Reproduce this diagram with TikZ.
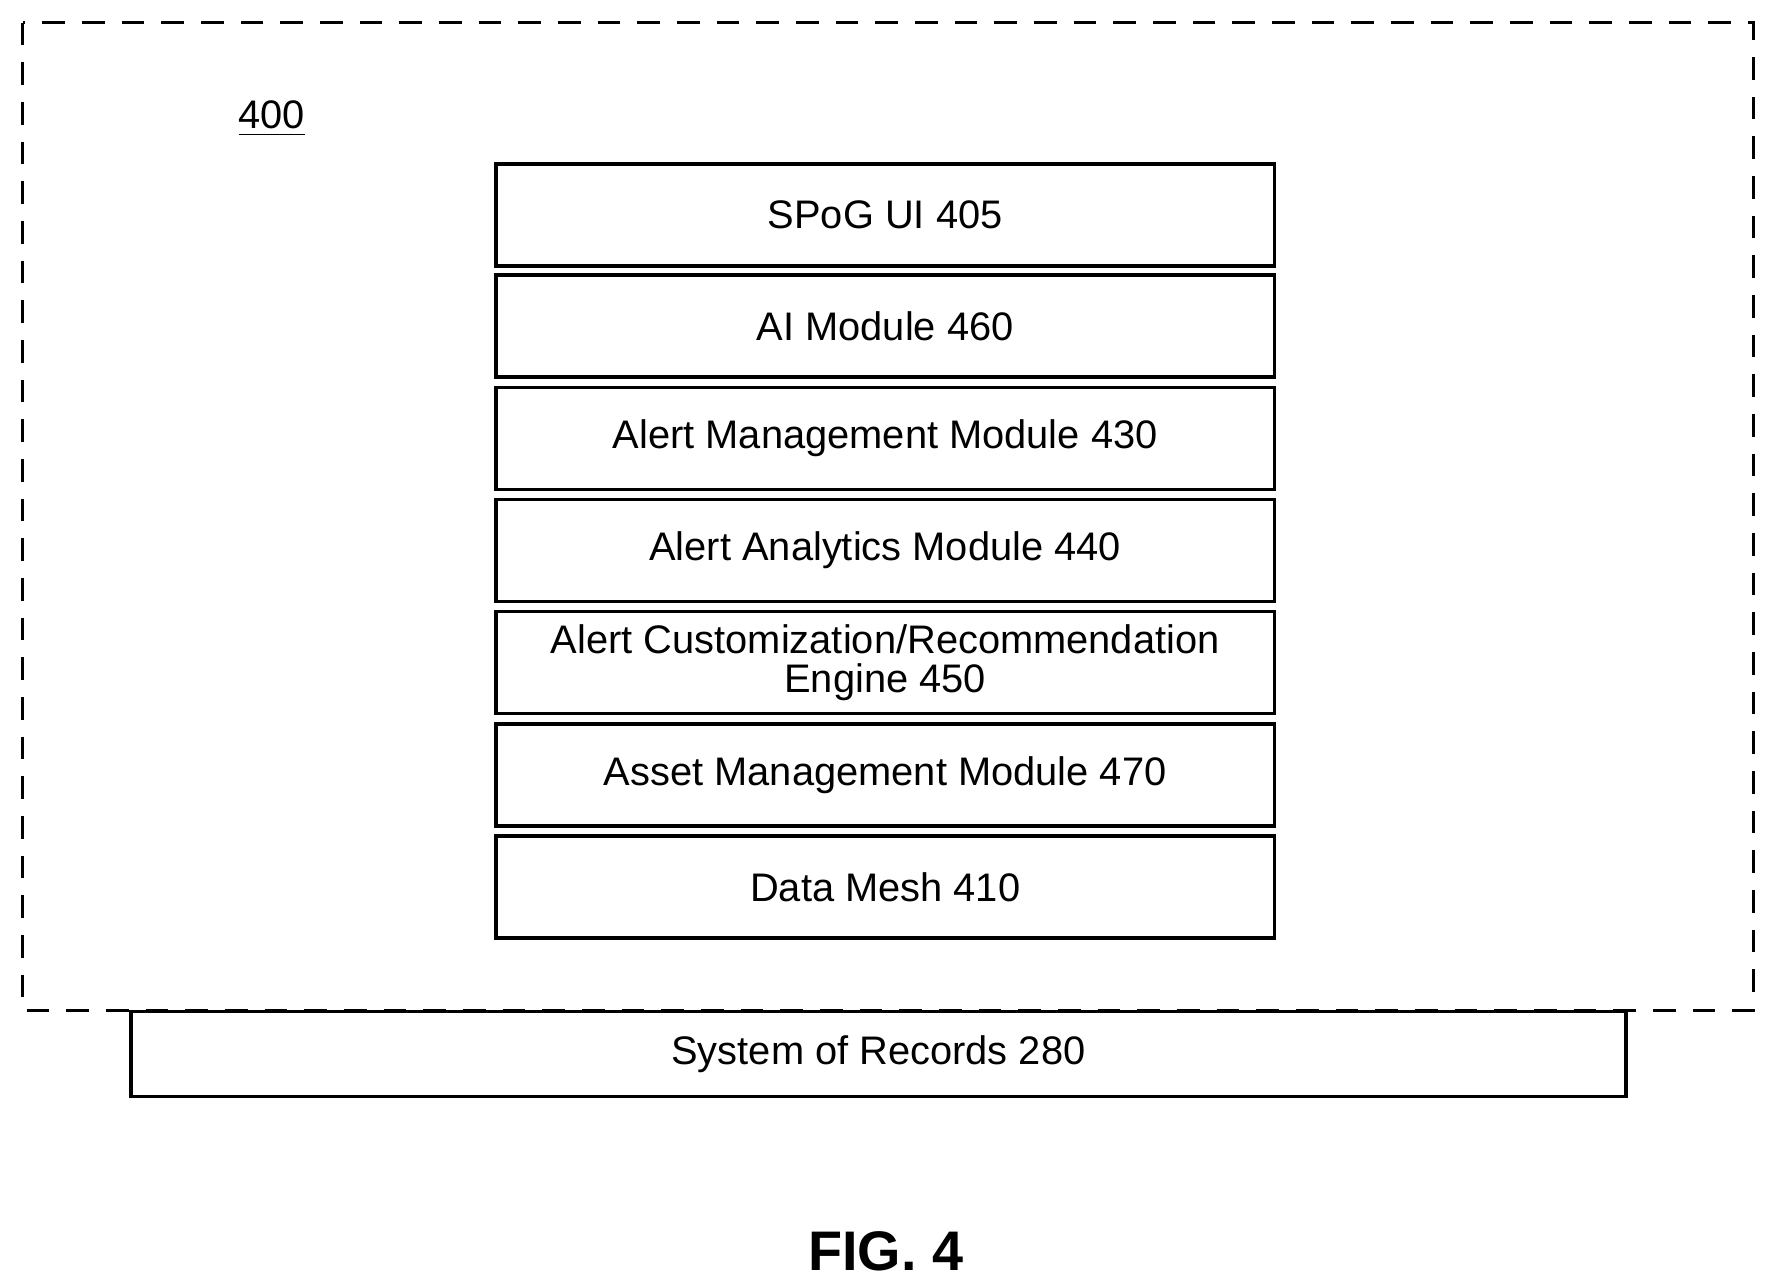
\documentclass[tikz,border=0pt]{standalone}
\usepackage{fontspec}
\setmainfont{Liberation Sans}
\begin{document}
\begin{tikzpicture}
        [x=0.01cm,y=-0.01cm,font=\fontsize{10}{12}\selectfont,
         layer/.style={draw,line width=0.9pt,minimum width=6.87cm,minimum height=0.9cm,inner sep=0,align=center}]

        \useasboundingbox (0,0) rectangle (1560,1136);
        \draw[dashed,line width=0.9pt,dash pattern=on 0.2cm off 0.15cm] (20,20) rectangle (1548,892);
        \node (n400) at (240,105) {\underline{400}};

        \node[layer] (ui) at (781.5,190) {SPoG UI 405};
        \node[layer] (ai) at (781.5,288) {AI Module 460};
        \node[layer] (alertmgmt) at (781.5,387) {Alert Management Module 430};
        \node[layer] (analytics) at (781.5,486) {Alert Analytics Module 440};
        \node[layer] (engine) at (781.5,585) {Alert Customization/Recommendation\\[-2pt]Engine 450};
        \node[layer] (asset) at (781.5,684) {Asset Management Module 470};
        \node[layer] (mesh) at (781.5,783) {Data Mesh 410};

        \node[layer,minimum width=13.19cm,minimum height=0.75cm] (records) at (775.5,930.5) {System of Records 280};

        \node[font=\fontsize{14}{16}\selectfont\bfseries] (fig) at (782,1105) {FIG. 4};
      \end{tikzpicture}
\end{document}
